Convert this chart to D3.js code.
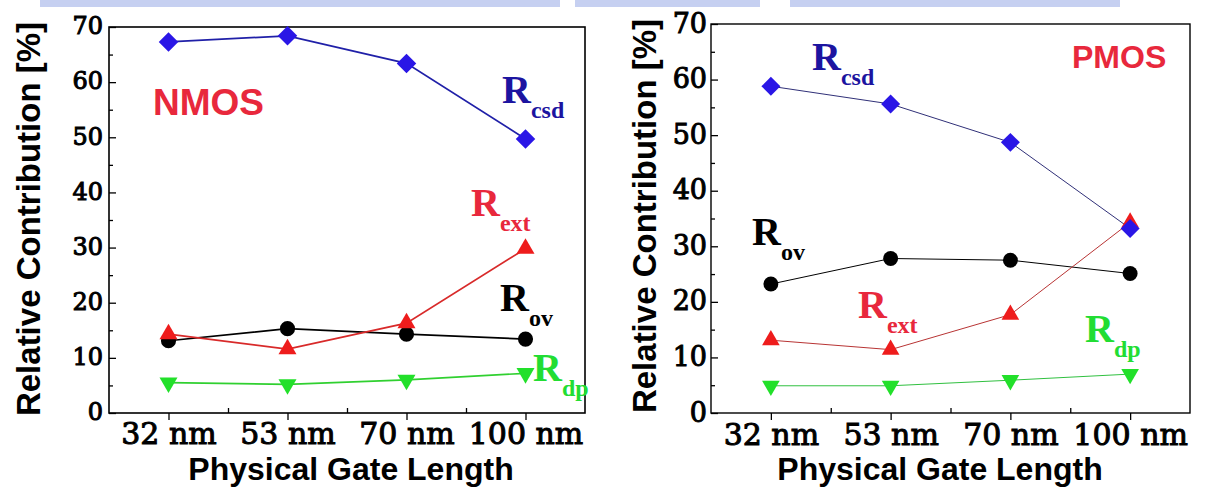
<!DOCTYPE html>
<html>
<head>
<meta charset="utf-8">
<script src="https://cdn.jsdelivr.net/npm/d3@7"></script>
<style>
  html, body { margin: 0; padding: 0; background: #ffffff; }
  svg { display: block; }
</style>
</head>
<body>
<svg id="chart" width="1213" height="493"></svg>
<script>
// Gate lengths on the x axis (shared by both panels)
const gateLengths = ["32 nm", "53 nm", "70 nm", "100 nm"];
const yMajorTicks = [0, 10, 20, 30, 40, 50, 60, 70];
const yMinorTicks = [5, 15, 25, 35, 45, 55, 65];

// NMOS relative contributions [%]
const nmosRcsd = [67.3, 68.4, 63.4, 49.7];
const nmosRext = [14.3, 11.6, 16.3, 29.8];
const nmosRov  = [13.1, 15.3, 14.3, 13.4];
const nmosRdp  = [5.5, 5.2, 6.0, 7.2];

// PMOS relative contributions [%]
const pmosRcsd = [58.8, 55.6, 48.7, 33.2];
const pmosRext = [13.1, 11.4, 17.7, 34.3];
const pmosRov  = [23.2, 27.8, 27.5, 25.1];
const pmosRdp  = [4.9, 4.9, 5.9, 7.0];

const svg = d3.select("#chart");

// faint light-blue strip along the top edge
const strip = [[40, 560], [575, 760], [790, 1120]];
svg.append("g").selectAll("rect").data(strip).join("rect")
  .attr("x", d => d[0]).attr("y", 0)
  .attr("width", d => d[1] - d[0]).attr("height", 7)
  .attr("fill", "#bcc8ee").attr("opacity", 0.85);

const MARK = {
  diamond: d3.symbol().type(d3.symbolSquare),
  circle: d3.symbol().type(d3.symbolCircle),
  triangle: d3.symbol().type(d3.symbolTriangle)
};

function drawPanel(p) {
  const g = svg.append("g");
  const x = d3.scalePoint().domain(gateLengths).range([p.left, p.right]).padding(0.5);
  const xIdx = d3.scaleLinear().domain([-0.5, gateLengths.length - 0.5]).range([p.left, p.right]);
  const y = d3.scaleLinear().domain([0, 70]).range([p.bottom, p.top]);

  // frame
  g.append("rect")
    .attr("x", p.left).attr("y", p.top)
    .attr("width", p.right - p.left).attr("height", p.bottom - p.top)
    .attr("fill", "none").attr("stroke", "#000").attr("stroke-width", p.frameWidth);

  // y axis: major ticks pointing inward, labelled
  const yAxis = g.append("g").attr("transform", `translate(${p.left},0)`)
    .call(d3.axisLeft(y).tickValues(yMajorTicks).tickSize(-7).tickPadding(p.yTickPad).tickFormat(d3.format("d")));
  yAxis.select(".domain").remove();
  yAxis.selectAll("line").attr("stroke", "#000").attr("stroke-width", 1.3);
  yAxis.selectAll("text")
    .attr("font-family", "DejaVu Serif").attr("font-size", p.yTickFont)
    .attr("fill", "#000").attr("stroke", "#000").attr("stroke-width", 1)
    .attr("dy", p.yTickDy);

  // y axis minor ticks
  const yMinor = g.append("g").attr("transform", `translate(${p.left},0)`)
    .call(d3.axisLeft(y).tickValues(yMinorTicks).tickSize(-4).tickFormat(""));
  yMinor.select(".domain").remove();
  yMinor.selectAll("line").attr("stroke", "#000").attr("stroke-width", 1.3);

  // x axis: major ticks outward, labelled
  const xAxis = g.append("g").attr("transform", `translate(0,${p.bottom})`)
    .call(d3.axisBottom(x).tickSize(7).tickPadding(4));
  xAxis.select(".domain").remove();
  xAxis.selectAll("line").attr("stroke", "#000").attr("stroke-width", 1.3);
  xAxis.selectAll("text")
    .attr("font-family", "DejaVu Serif").attr("font-size", p.xTickFont)
    .attr("fill", "#000").attr("stroke", "#000").attr("stroke-width", 1)
    .attr("dy", null).attr("y", p.xTickBaseline - p.bottom);

  // x axis minor ticks, between categories, inward
  const xMinor = g.append("g").attr("transform", `translate(0,${p.bottom})`)
    .call(d3.axisBottom(xIdx).tickValues([0.5, 1.5, 2.5]).tickSize(-5).tickFormat(""));
  xMinor.select(".domain").remove();
  xMinor.selectAll("line").attr("stroke", "#000").attr("stroke-width", 1.3);

  // axis titles
  g.append("text")
    .attr("transform", `translate(${p.yTitleX},${p.yTitleY}) rotate(-90)`)
    .attr("text-anchor", "middle")
    .attr("font-family", "Liberation Sans, Arial, sans-serif").attr("font-weight", "bold")
    .attr("font-size", 33).attr("fill", "#000")
    .text("Relative Contribution [%]");
  g.append("text")
    .attr("x", p.xTitleX).attr("y", p.xTitleY)
    .attr("text-anchor", "middle")
    .attr("font-family", "Liberation Sans, Arial, sans-serif").attr("font-weight", "bold")
    .attr("font-size", 32).attr("fill", "#000")
    .text("Physical Gate Length");

  // series: drawn so that later ones sit on top
  const line = d3.line().x((d, i) => x(gateLengths[i])).y(d => y(d));
  p.series.forEach(s => {
    g.append("path").datum(s.values)
      .attr("d", line).attr("fill", "none")
      .attr("stroke", s.lineColor).attr("stroke-width", p.lineWidth);
  });
  p.series.forEach(s => {
    g.append("g").selectAll("path").data(s.values).join("path")
      .attr("d", MARK[s.shape].size(s.size)())
      .attr("transform", (d, i) => `translate(${x(gateLengths[i])},${y(d)}) rotate(${s.rotate})`)
      .attr("fill", s.color);
  });

  // series labels: R with subscript
  p.labels.forEach(l => {
    const t = g.append("text")
      .attr("x", l.x).attr("y", l.y)
      .attr("font-family", "Liberation Serif, Times New Roman, serif")
      .attr("font-weight", "bold").attr("fill", l.color);
    t.append("tspan").attr("font-size", 40).text("R");
    t.append("tspan").attr("font-size", 24).attr("dy", 15).text(l.sub);
  });

  // device type
  g.append("text")
    .attr("x", p.device.x).attr("y", p.device.y)
    .attr("font-family", "Liberation Sans, Arial, sans-serif").attr("font-weight", "bold")
    .attr("font-size", p.device.size).attr("fill", "#e8283c")
    .text(p.device.text);
}

const BLUE = "#2a16e6", RED = "#ee1c1c", GREEN = "#22e02a";

drawPanel({
  left: 109, right: 585, top: 27, bottom: 413,
  frameWidth: 1.6, lineWidth: 1.7,
  yTickFont: 24, yTickPad: 6, yTickDy: "0.28em",
  xTickFont: 30, xTickBaseline: 444,
  yTitleX: 40, yTitleY: 219, xTitleX: 351, xTitleY: 480,
  device: { text: "NMOS", x: 153, y: 115, size: 37 },
  series: [
    { values: nmosRdp,  shape: "triangle", size: 140, rotate: 180, color: GREEN, lineColor: "#30d030" },
    { values: nmosRov,  shape: "circle",   size: 180, rotate: 0,   color: "#000", lineColor: "#000" },
    { values: nmosRext, shape: "triangle", size: 140, rotate: 0,   color: RED,   lineColor: "#d82a2a" },
    { values: nmosRcsd, shape: "diamond",  size: 190, rotate: 45,  color: BLUE,  lineColor: "#2020a8" }
  ],
  labels: [
    { sub: "csd", x: 502, y: 103, color: "#1c14a0" },
    { sub: "ext", x: 471, y: 216, color: "#e8283c" },
    { sub: "ov",  x: 500, y: 311, color: "#000" },
    { sub: "dp",  x: 533, y: 381, color: "#22dd33" }
  ]
});

drawPanel({
  left: 711, right: 1190, top: 24, bottom: 413,
  frameWidth: 1.4, lineWidth: 1,
  yTickFont: 27, yTickPad: 4, yTickDy: "0.3em",
  xTickFont: 30, xTickBaseline: 445,
  yTitleX: 656, yTitleY: 216, xTitleX: 940, xTitleY: 480,
  device: { text: "PMOS", x: 1072, y: 68, size: 32 },
  series: [
    { values: pmosRdp,  shape: "triangle", size: 135, rotate: 180, color: GREEN, lineColor: "#30c040" },
    { values: pmosRov,  shape: "circle",   size: 175, rotate: 0,   color: "#000", lineColor: "#000" },
    { values: pmosRext, shape: "triangle", size: 135, rotate: 0,   color: RED,   lineColor: "#b83434" },
    { values: pmosRcsd, shape: "diamond",  size: 180, rotate: 45,  color: BLUE,  lineColor: "#303078" }
  ],
  labels: [
    { sub: "csd", x: 812, y: 70, color: "#1c14a0" },
    { sub: "ov",  x: 752, y: 245, color: "#000" },
    { sub: "ext", x: 858, y: 318, color: "#e8283c" },
    { sub: "dp",  x: 1085, y: 342, color: "#22dd33" }
  ]
});
</script>
</body>
</html>
